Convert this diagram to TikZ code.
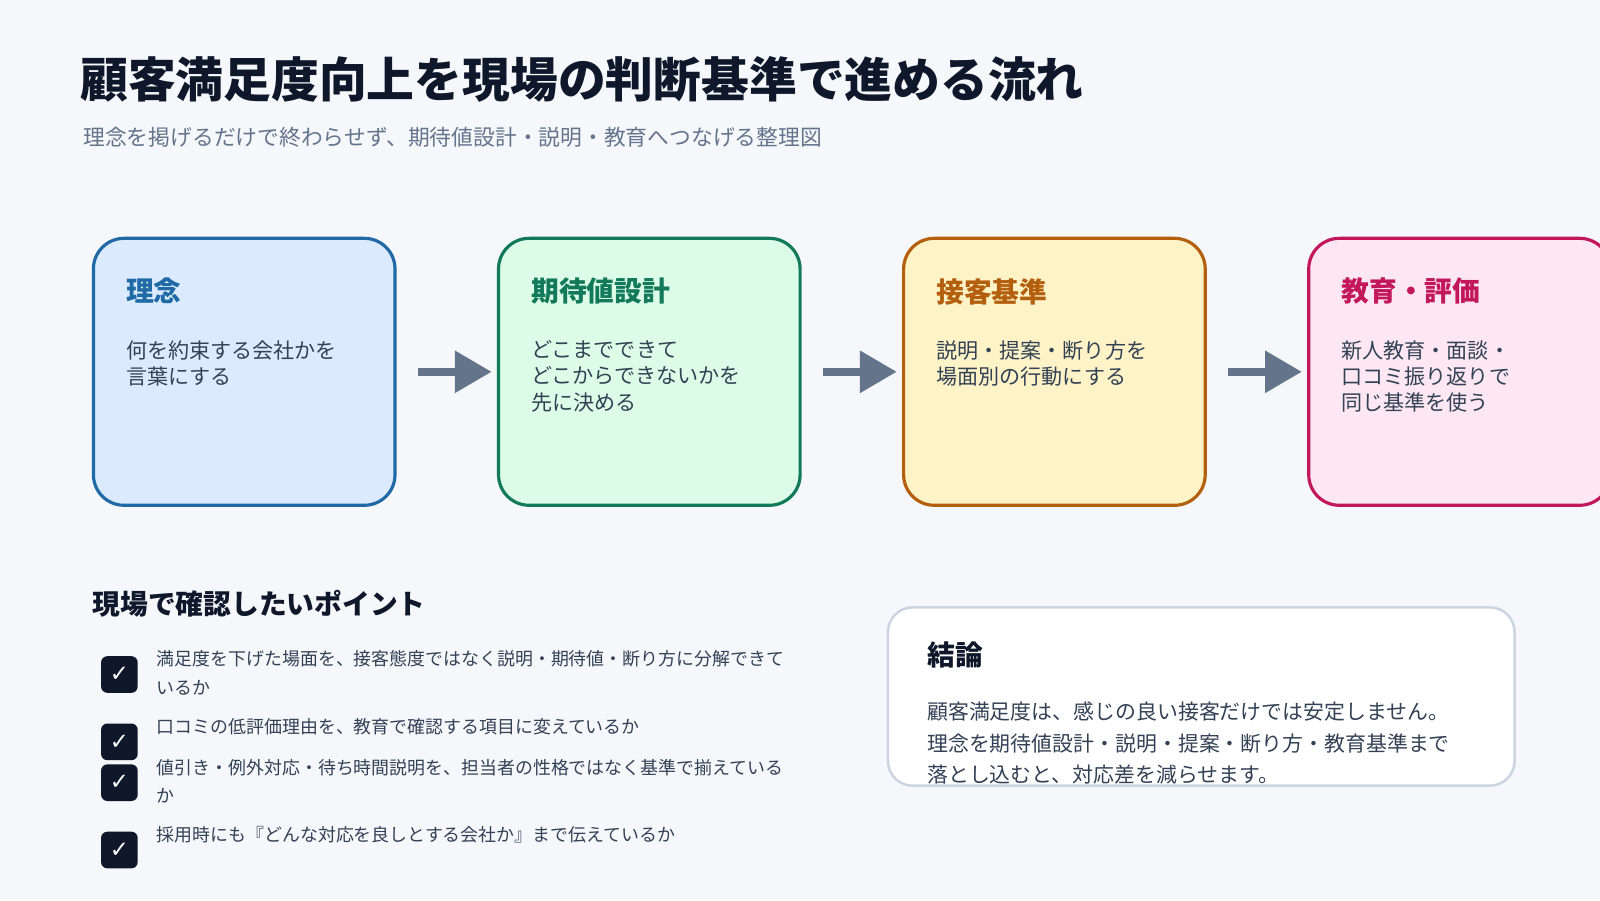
\documentclass[tikz,border=0pt]{standalone}
\usepackage{fontspec}
\setmainfont{Noto Sans CJK JP}
\newfontfamily\symfont{DejaVu Sans}
\usetikzlibrary{positioning,arrows.meta}
\definecolor{pagebg}{HTML}{F5F7FB}
\definecolor{ink}{HTML}{0F172A}
\definecolor{body}{HTML}{334155}
\definecolor{muted}{HTML}{64748B}
\definecolor{edgegray}{HTML}{CBD5E1}
\definecolor{blueline}{HTML}{1F6AA5}
\definecolor{bluefill}{HTML}{DBEAFE}
\definecolor{greenline}{HTML}{13795B}
\definecolor{greenfill}{HTML}{DCFCE7}
\definecolor{orangeline}{HTML}{B45F0E}
\definecolor{orangefill}{HTML}{FEF3C7}
\definecolor{pinkline}{HTML}{C2185B}
\definecolor{pinkfill}{HTML}{FCE7F3}
\newcommand{\stagebox}[6]{\node[stage, draw=#3, fill=#4] (#1) at (#2,232) {};
					\node[head, text=#3] at ([xshift=33*0.29pt,yshift=-40*0.29pt]#1.north west) {#5};
					\node[txt] at ([xshift=33*0.29pt,yshift=-101*0.29pt]#1.north west) {#6};}
\newcommand{\checkbox}[2]{\node[tick] (#1) at (117,#2) {\textcolor{white}{\symfont\fontsize{6.5pt}{7pt}\selectfont ✓}};}
\begin{document}
\begin{tikzpicture}[x=0.010204cm, y=-0.010204cm,
	stage/.style={anchor=north west, minimum width=296*0.29pt, minimum height=262*0.29pt, rounded corners=8.7pt, line width=0.9pt, inner sep=0pt},
	head/.style={anchor=north west, inner sep=0pt, font=\bfseries\fontsize{7.9pt}{8pt}\selectfont},
	txt/.style={anchor=north west, inner sep=0pt, align=left, text=body, font=\fontsize{6pt}{7.5pt}\selectfont},
	flow/.style={line width=2.3pt, draw=muted, -{Triangle[length=10.5pt,width=11.5pt]}, shorten <=6pt, shorten >=1.5pt},
	tick/.style={fill=ink, rounded corners=1.8pt, minimum size=36*0.29pt, inner sep=0pt},
	item/.style={anchor=north west, inner sep=0pt, align=left, text=body, font=\fontsize{5.1pt}{8.2pt}\selectfont}]
\useasboundingbox (0,0) rectangle (1568,882);
\fill[pagebg] (0,0) rectangle (1568,882);
\clip (0,0) rectangle (1568,882);

% title
\node[anchor=west, inner sep=0pt, text=ink, font=\bfseries\fontsize{13.6pt}{14pt}\selectfont] (title) at (78,78) {顧客満足度向上を現場の判断基準で進める流れ};
\node[anchor=west, inner sep=0pt, text=muted, font=\fontsize{6.2pt}{6.5pt}\selectfont] (sub) at (81,135) {理念を掲げるだけで終わらせず、期待値設計・説明・教育へつなげる整理図};

% flow
\stagebox{rinen}{90}{blueline}{bluefill}{理念}{何を約束する会社かを\\言葉にする}
\stagebox{kitai}{487}{greenline}{greenfill}{期待値設計}{どこまでできて\\どこからできないかを\\先に決める}
\stagebox{sekkyaku}{884}{orangeline}{orangefill}{接客基準}{説明・提案・断り方を\\場面別の行動にする}
\stagebox{kyoiku}{1281}{pinkline}{pinkfill}{教育・評価}{新人教育・面談・\\口コミ振り返りで\\同じ基準を使う}
\draw[flow] (rinen.east) -- (kitai.west);
\draw[flow] (kitai.east) -- (sekkyaku.west);
\draw[flow] (sekkyaku.east) -- (kyoiku.west);

% checklist
\node[anchor=west, inner sep=0pt, text=ink, font=\bfseries\fontsize{7.9pt}{8pt}\selectfont] (points) at (90,592) {現場で確認したいポイント};
\checkbox{c1}{661}
\checkbox{c2}{727}
\checkbox{c3}{767}
\checkbox{c4}{833}
\node[item] (i1) at (153,637) {満足度を下げた場面を、接客態度ではなく説明・期待値・断り方に分解できて\\いるか};
\node[item] (i2) at (153,703) {口コミの低評価理由を、教育で確認する項目に変えているか};
\node[item] (i3) at (153,743) {値引き・例外対応・待ち時間説明を、担当者の性格ではなく基準で揃えている\\か};
\node[item] (i4) at (153,809) {採用時にも『どんな対応を良しとする会社か』まで伝えているか};

% conclusion
\node[anchor=north west, minimum width=615*0.29pt, minimum height=175*0.29pt, rounded corners=7pt, fill=white, draw=edgegray, line width=0.7pt, inner sep=0pt] (concl) at (869,594) {};
\node[head, text=ink] (conhead) at (908,628) {結論};
\node[txt, font=\fontsize{5.95pt}{9pt}\selectfont] (context) at (908,687) {顧客満足度は、感じの良い接客だけでは安定しません。\\理念を期待値設計・説明・提案・断り方・教育基準まで\\落とし込むと、対応差を減らせます。};
\end{tikzpicture}
\end{document}
